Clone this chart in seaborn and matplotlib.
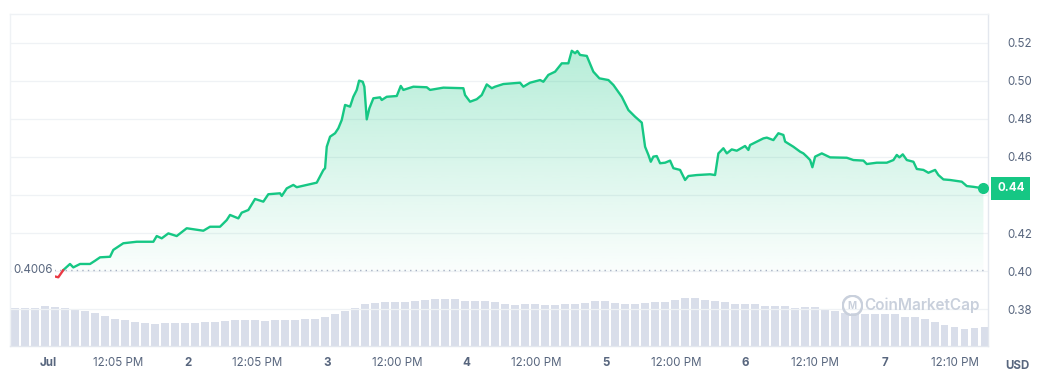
import numpy as np
import pandas as pd
import matplotlib
matplotlib.use("Agg")
import matplotlib.pyplot as plt
import seaborn as sns
from matplotlib.patches import Polygon

# ---------------- data ----------------
# hours since Jul 1 00:00
red_hours = [0.81, 1.77, 2.63]
red_price = [0.3974, 0.3967, 0.4005]

price_hours = [2.63, 3.78, 4.35, 5.51, 7.23, 8.09, 8.95, 10.67, 11.23, 12.95, 15.26, 18.12, 18.70,
               19.56, 20.70, 22.14, 23.86, 26.72, 27.87, 29.59, 30.74, 31.31, 32.74, 33.32, 34.46,
               35.61, 37.04, 37.90, 39.91, 40.21, 41.07, 42.20, 42.79, 44.51, 46.23, 47.36, 47.66,
               47.95, 48.52, 49.38, 49.94, 50.53, 51.10, 51.96, 52.52, 53.11, 53.51, 54.14, 54.42,
               54.83, 55.28, 55.97, 57.12, 57.41, 58.27, 59.99, 60.68, 61.13, 62.85, 65.15, 65.72,
               68.01, 71.45, 71.74, 72.60, 73.75, 74.61, 75.47, 76.34, 76.90, 78.33, 81.20, 81.77,
               82.92, 84.65, 85.21, 86.07, 87.23, 88.38, 89.51, 90.10, 90.67, 91.06, 91.53, 92.68,
               93.81, 94.85, 96.40, 97.26, 98.70, 99.84, 100.99, 102.14, 102.71, 103.28, 103.69,
               104.14, 104.72, 105.29, 106.15, 107.01, 107.58, 108.73, 109.59, 110.16, 111.60,
               113.89, 114.75, 115.32, 116.18, 116.77, 117.62, 118.48, 119.91, 120.48, 120.77,
               123.06, 123.65, 124.78, 125.64, 126.50, 126.80, 128.22, 129.38, 129.94, 130.53,
               131.10, 131.49, 131.96, 133.11, 134.54, 137.41, 138.55, 140.27, 140.85, 142.57,
               144.29, 145.43, 146.01, 146.46, 147.04, 147.73, 148.87, 149.45, 150.59, 151.45,
               152.60, 153.17, 154.03, 155.18, 157.19, 158.05, 159.19, 160.91]
price = [0.4005, 0.4037, 0.4019, 0.4037, 0.4037, 0.4054, 0.4072, 0.4075, 0.4111, 0.4146, 0.4154, 0.4154, 0.4184,
         0.4172, 0.4198, 0.4184, 0.4225, 0.4212, 0.4233, 0.4233, 0.4268, 0.4295, 0.4277, 0.4307, 0.4321,
         0.4379, 0.4365, 0.4404, 0.4409, 0.4395, 0.4435, 0.4453, 0.4441, 0.4453, 0.4465, 0.4531, 0.4541,
         0.4654, 0.4707, 0.4725, 0.4751, 0.4795, 0.4874, 0.4865, 0.4917, 0.4953, 0.5002, 0.4996, 0.4970,
         0.4798, 0.4856, 0.4909, 0.4914, 0.4900, 0.4917, 0.4921, 0.4974, 0.4953, 0.4970, 0.4967, 0.4953,
         0.4965, 0.4962, 0.4926, 0.4891, 0.4904, 0.4926, 0.4982, 0.4962, 0.4970, 0.4984, 0.4991, 0.4970,
         0.4991, 0.5005, 0.4996, 0.5032, 0.5049, 0.5093, 0.5093, 0.5159, 0.5146, 0.5158, 0.5137, 0.5132,
         0.5049, 0.5014, 0.5005, 0.4979, 0.4917, 0.4847, 0.4812, 0.4781, 0.4654, 0.4611, 0.4575,
         0.4602, 0.4605, 0.4567, 0.4570, 0.4581, 0.4541, 0.4532, 0.4479, 0.4500, 0.4505,
         0.4509, 0.4505, 0.4619, 0.4646, 0.4619, 0.4640, 0.4633, 0.4658, 0.4637, 0.4663,
         0.4698, 0.4702, 0.4689, 0.4725, 0.4716, 0.4681, 0.4654, 0.4628, 0.4619, 0.4602,
         0.4584, 0.4546, 0.4602, 0.4619, 0.4598, 0.4596, 0.4584, 0.4581, 0.4563, 0.4570,
         0.4570, 0.4584, 0.4611, 0.4598, 0.4614, 0.4584, 0.4575, 0.4537, 0.4532, 0.4517,
         0.4532, 0.4505, 0.4482, 0.4479, 0.4470, 0.4447, 0.4443, 0.4435]

open_price = 0.4006
last_label = "0.44"

# volume bars (relative units), one per ~1.72 h starting at -5.68 h
vol_start_hour = -5.68
vol_step_hours = 1.72
volume = [38, 38, 38.5, 40, 39, 38, 36, 35, 33, 30, 27, 26, 24, 23, 22.5, 23, 23, 23, 23.5, 24,
          24, 25, 26, 26, 26, 25, 26, 26, 26, 27, 27, 29, 32, 35, 38, 42, 43.5, 44, 44.5, 44,
          45.5, 46, 47, 47, 47, 45, 45.5, 45, 44, 42, 41, 42, 42, 41, 41, 42, 42, 43, 45, 45,
          43, 42, 42, 43, 44, 44, 46, 48, 48, 46, 45, 44, 42, 42, 42, 40, 40, 40, 38, 39,
          39, 36, 35, 33, 33, 32, 32, 32, 32, 29, 29, 27, 24, 21, 19, 17, 18, 19]

y_ticks = [0.38, 0.40, 0.42, 0.44, 0.46, 0.48, 0.50, 0.52]
x_tick_hours = [0, 12, 24, 36, 48, 60, 72, 84, 96, 108, 120, 132, 144, 156]
x_tick_labels = ["Jul", "12:05 PM", "2", "12:05 PM", "3", "12:00 PM", "4", "12:00 PM",
                 "5", "12:00 PM", "6", "12:10 PM", "7", "12:10 PM"]

# ---------------- style ----------------
sns.set_theme(style="white")
plt.rcParams['font.family'] = ['Inter', 'DejaVu Sans']

GREEN = "#16c784"
RED = "#ea3943"
GREY = "#58667e"
GRID = "#eff2f5"
WM = "#c9d0dc"

fig = plt.figure(figsize=(10.47, 3.82), dpi=100)
W, H = 1047, 382
ax_l, ax_r, ax_t, ax_b = 10, 988, 14, 346
pos = [ax_l / W, 1 - ax_b / H, (ax_r - ax_l) / W, (ax_b - ax_t) / H]

XMIN, XMAX = -6.54, 161.7
YMIN, YMAX = 0.36053, 0.53526

# volume axes (behind)
vol_ax = fig.add_axes([ax_l / W, 1 - ax_b / H, (ax_r - ax_l) / W, 75 / H])
vol_hours = vol_start_hour + vol_step_hours * np.arange(len(volume))
vol_ax.bar(vol_hours, volume, width=1.25, color="#d9deea", edgecolor="none", align="center")
vol_ax.set_xlim(XMIN, XMAX)
vol_ax.set_ylim(0, 75)
vol_ax.axis("off")

ax = fig.add_axes(pos)
ax.patch.set_alpha(0)
ax.set_xlim(XMIN, XMAX)
ax.set_ylim(YMIN, YMAX)

# gridlines
for t in y_ticks:
    ax.axhline(t, color=GRID, lw=0.9, zorder=0)

# gradient fill
ph = np.array(price_hours)
pp = np.array(price)
base = 0.40
cmap_rgba = np.zeros((256, 1, 4))
rgb = matplotlib.colors.to_rgb(GREEN)
cmap_rgba[..., 0] = rgb[0]
cmap_rgba[..., 1] = rgb[1]
cmap_rgba[..., 2] = rgb[2]
vals = np.linspace(base, 0.52, 256)
cmap_rgba[:, 0, 3] = np.clip(0.02 + (vals - base) / (0.52 - base) * 0.30, 0, 1)
im = ax.imshow(cmap_rgba, extent=[XMIN, XMAX, base, 0.52], origin="lower", aspect="auto", zorder=1)
verts = np.vstack([np.column_stack([ph, pp]), [[ph[-1], base], [ph[0], base]]])
poly = Polygon(verts, closed=True, facecolor="none", edgecolor="none", transform=ax.transData)
ax.add_patch(poly)
im.set_clip_path(poly)

# dotted open-price line
ax.plot([1.0, ph[-1]], [open_price, open_price], color="#a6b0c3", lw=1.0,
        linestyle=(0, (1, 3)), zorder=2)

# price lines
df_green = pd.DataFrame({"hour": price_hours, "price": price})
df_red = pd.DataFrame({"hour": red_hours, "price": red_price})
sns.lineplot(data=df_green, x="hour", y="price", ax=ax, color=GREEN, lw=1.7, zorder=4,
             estimator=None, sort=False)
sns.lineplot(data=df_red, x="hour", y="price", ax=ax, color=RED, lw=1.7, zorder=4,
             estimator=None, sort=False)
ax.plot([ph[-1]], [pp[-1]], "o", color=GREEN, ms=7, zorder=5)

# spines
for s in ["left", "right", "top", "bottom"]:
    ax.spines[s].set_visible(True)
    ax.spines[s].set_color(GRID)
    ax.spines[s].set_linewidth(1.0)
ax.spines["right"].set_color("#e3e7ee")
ax.spines["bottom"].set_color("#e3e7ee")

# y ticks on right (0.44 is covered by the last-price badge)
ax.yaxis.tick_right()
ax.set_yticks(y_ticks)
ax.set_yticklabels(["" if abs(t - 0.44) < 1e-9 else f"{t:.2f}" for t in y_ticks])
ax.tick_params(axis="y", length=0, pad=14, labelsize=8.3, labelcolor=GREY)

# x ticks
ax.set_xticks(x_tick_hours)
ax.set_xticklabels(x_tick_labels)
ax.tick_params(axis="x", length=0, pad=8, labelsize=8.3, labelcolor=GREY)
for lbl in ax.get_xticklabels():
    if "PM" not in lbl.get_text():
        lbl.set_fontweight("bold")
ax.set_xlabel("")
ax.set_ylabel("")

# open price label
ax.text(XMIN + 0.6, open_price, f"{open_price:.4f}", ha="left", va="center", fontsize=8.3,
        color=GREY, zorder=6,
        bbox=dict(boxstyle="square,pad=0.15", facecolor="white", edgecolor="none"))

# last price badge
trans = matplotlib.transforms.blended_transform_factory(ax.transAxes, ax.transData)
ax.text(1.0 + 9 / (ax_r - ax_l), pp[-1], last_label, transform=trans, ha="left", va="center",
        fontsize=8.3, color="white", fontweight="bold", zorder=7, clip_on=False,
        bbox=dict(boxstyle="square,pad=0.5", facecolor=GREEN, edgecolor="none"))

# USD label
fig.text(1005 / W, 1 - 366 / H, "USD", ha="left", va="center", fontsize=8.3,
         color=GREY, fontweight="bold")

# watermark (logo drawn as a ring with a small M, then the wordmark)
fig.text(864 / W, 1 - 305 / H, "CoinMarketCap", ha="left", va="center", fontsize=11,
         color=WM, fontweight="semibold")
logo_ax = fig.add_axes([842 / W, 1 - 315 / H, 20 / W, 20 / H])
logo_ax.axis("off")
logo_ax.set_xlim(0, 1)
logo_ax.set_ylim(0, 1)
logo_ax.plot([0.5], [0.5], "o", ms=14, mfc="none", mec=WM, mew=1.8)
logo_ax.text(0.5, 0.47, "M", ha="center", va="center", fontsize=7, color=WM, fontweight="bold")

fig.savefig("out.png", dpi=100)
